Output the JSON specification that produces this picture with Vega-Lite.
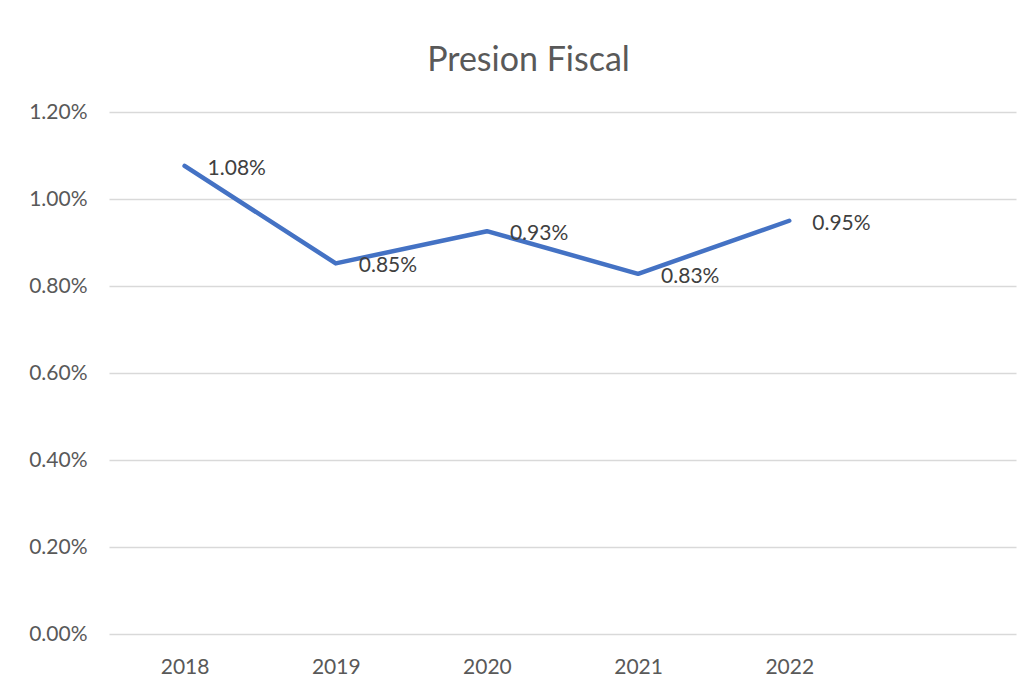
{
  "$schema": "https://vega.github.io/schema/vega-lite/v6.json",
  "autosize": {"type": "none"},
  "width": 907,
  "height": 522,
  "padding": {"left": 109, "top": 112, "right": 14, "bottom": 55},
  "background": "white",
  "config": {
    "view": {"stroke": null},
    "font": "Lato",
    "axis": {"labelFont": "Lato", "labelColor": "#595959", "labelFontSize": 21}
  },
  "title": {
    "text": "Presion Fiscal",
    "font": "Lato",
    "fontSize": 34,
    "fontWeight": "normal",
    "color": "#595959",
    "anchor": "middle",
    "dx": -34,
    "offset": 23
  },
  "data": {
    "values": [
      {"year": "2018", "value": 0.01076},
      {"year": "2019", "value": 0.00852},
      {"year": "2020", "value": 0.00926},
      {"year": "2021", "value": 0.00828},
      {"year": "2022", "value": 0.0095}
    ]
  },
  "encoding": {
    "x": {
      "field": "year",
      "type": "ordinal",
      "scale": {"type": "point", "domain": ["2018", "2019", "2020", "2021", "2022", ""], "padding": 0.5},
      "axis": {"title": null, "labelAngle": 0, "ticks": false, "domain": false, "labelPadding": 22, "grid": false}
    },
    "y": {
      "field": "value",
      "type": "quantitative",
      "scale": {"domain": [0, 0.012]},
      "axis": {
        "title": null,
        "format": ".2%",
        "values": [0, 0.002, 0.004, 0.006, 0.008, 0.01, 0.012],
        "ticks": false,
        "domain": false,
        "labelPadding": 22,
        "gridColor": "#d9d9d9",
        "gridWidth": 1.3
      }
    }
  },
  "layer": [
    {"mark": {"type": "line", "color": "#4472C4", "strokeWidth": 4.5, "strokeCap": "round", "strokeJoin": "round"}},
    {
      "mark": {"type": "text", "align": "left", "baseline": "middle", "dx": 23, "dy": 3, "fontSize": 21, "color": "#404040", "font": "Lato"},
      "encoding": {"text": {"field": "value", "type": "quantitative", "format": ".2%"}}
    }
  ]
}
